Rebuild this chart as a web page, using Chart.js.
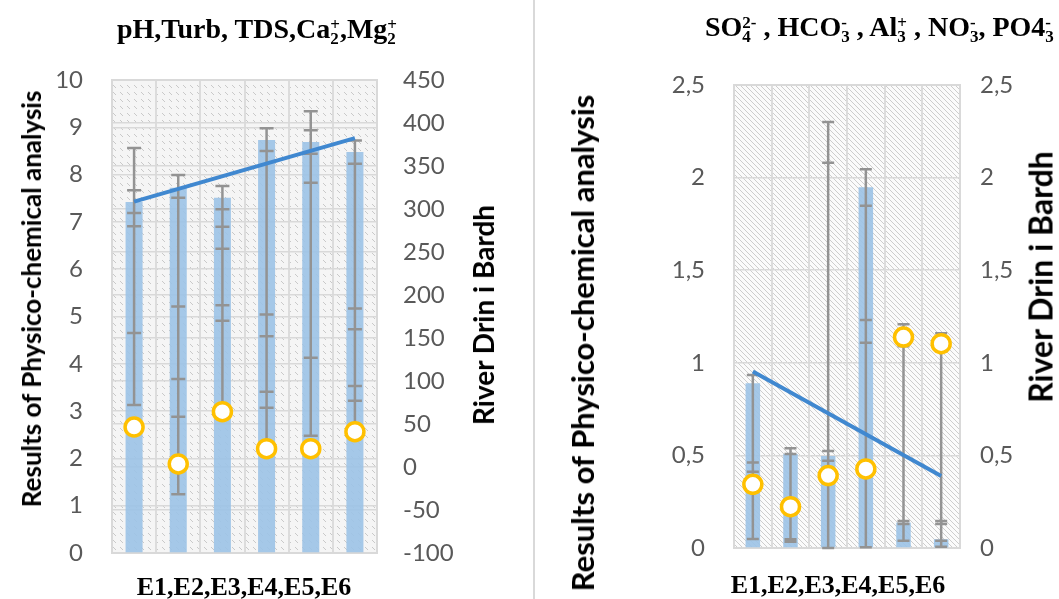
<!DOCTYPE html>
<html>
<head>
<meta charset="utf-8">
<script src="https://cdn.jsdelivr.net/npm/chart.js@4.4.1/dist/chart.umd.min.js"></script>
<style>
  body { margin:0; width:1059px; height:599px; position:relative; overflow:hidden; background:#fff; }
  canvas { position:absolute; top:0; }
  #sep { position:absolute; left:533px; top:0; width:2px; height:599px; background:#d9d9d9; }
  .t { position:absolute; font-family:'Liberation Serif', serif; font-weight:bold; font-size:28px; line-height:28px; white-space:nowrap; color:#000; }
  .ss { display:inline-block; font-size:17px; line-height:14px; vertical-align:-6px; }
  .ss span { display:block; }
  .xt { position:absolute; font-family:'Liberation Serif', serif; font-weight:bold; font-size:26px; line-height:26px; white-space:nowrap; transform:translate(-50%,-50%); }
  .yt { position:absolute; font-family:Lato, sans-serif; font-weight:bold; white-space:nowrap; transform:translate(-50%,-50%) rotate(-90deg); color:#000; }
</style>
</head>
<body>
<div id="sep"></div>
<canvas id="c1" width="530" height="599" style="left:0"></canvas>
<canvas id="c2" width="519" height="599" style="left:540px"></canvas>

<div class="t" style="left:117px;top:15px">pH,Turb, TDS,Ca<span class="ss"><span>+</span><span>2</span></span>,Mg<span class="ss"><span>+</span><span>2</span></span></div>
<div class="t" style="left:705px;top:13px">SO<span class="ss"><span>2-</span><span>4</span></span> , HCO<span class="ss"><span>-</span><span>3</span></span> , Al<span class="ss"><span>+</span><span>3</span></span> , NO<span class="ss"><span>-</span><span>3</span></span>, PO4<span class="ss"><span>-</span><span>3</span></span></div>

<div class="xt" style="left:244px;top:587px">E1,E2,E3,E4,E5,E6</div>
<div class="xt" style="left:838px;top:585px">E1,E2,E3,E4,E5,E6</div>

<div class="yt" style="left:31px;top:299px;font-size:26px">Results of Physico-chemical analysis</div>
<div class="yt" style="left:483px;top:315px;font-size:28px">River Drin i Bardh</div>
<div class="yt" style="left:582px;top:343px;font-size:31px">Results of Physico-chemical analysis</div>
<div class="yt" style="left:1040px;top:277px;font-size:32px">River Drin i Bardh</div>

<script>
const categories = ['E1', 'E2', 'E3', 'E4', 'E5', 'E6'];

// left chart: pH, Turb, TDS, Ca, Mg
const barsA = [7.42, 7.72, 7.51, 8.73, 8.69, 8.48];
const trendA = [7.43, null, null, null, null, 8.77];
const pointsA = [46.5, 3.5, 64.3, 21.3, 21.3, 41];
const errA = [
  [8.56, 7.67, 7.19, 6.91, 4.65, 3.13],
  [7.99, 7.51, 5.21, 3.68, 2.88, 1.24],
  [7.76, 7.27, 6.9, 6.43, 5.24, 4.91, 3.0],
  [8.98, 8.5, 5.04, 4.58, 3.41, 3.07, 2.25],
  [9.34, 8.94, 8.44, 7.83, 4.13, 2.48],
  [8.72, 8.23, 5.17, 4.73, 3.53, 3.22, 2.6]
];
const ticksA = ['0', '1', '2', '3', '4', '5', '6', '7', '8', '9', '10'];
const ticksA2 = ['-100', '-50', '0', '50', '100', '150', '200', '250', '300', '350', '400', '450'];

// right chart: SO4, HCO3, Al, NO3, PO4
const barsB = [0.89, 0.508, 0.497, 1.948, 0.137, 0.047];
const trendB = [0.953, null, null, null, null, 0.389];
const pointsB = [0.344, 0.223, 0.391, 0.427, 1.139, 1.103];
const errB = [
  [0.934, 0.461, 0.412, 0.049],
  [0.538, 0.508, 0.047, 0.034],
  [2.3, 2.08, 0.524, 0.471, 0.0],
  [2.045, 1.848, 1.231, 1.108, 0.004],
  [1.208, 1.09, 0.146, 0.13, 0.039],
  [1.159, 1.064, 0.146, 0.13, 0.039, 0.007]
];
const ticksB = ['0', '0,5', '1', '1,5', '2', '2,5'];

function hatch(size, bg, fg, dash) {
  const c = document.createElement('canvas');
  c.width = c.height = size;
  const g = c.getContext('2d');
  g.fillStyle = bg;
  g.fillRect(0, 0, size, size);
  g.strokeStyle = fg;
  g.lineWidth = 1;
  g.beginPath();
  if (dash) {
    g.moveTo(1, 1); g.lineTo(dash + 1, dash + 1);
  } else {
    g.moveTo(-1, -1); g.lineTo(size + 1, size + 1);
    g.moveTo(-1, size - 1); g.lineTo(1, size + 1);
    g.moveTo(size - 1, -1); g.lineTo(size + 1, 1);
  }
  g.stroke();
  return g.createPattern(c, 'repeat');
}

const plotBg = {
  id: 'plotBg',
  beforeDraw(chart, args, opts) {
    const a = chart.chartArea, ctx = chart.ctx;
    ctx.save();
    ctx.fillStyle = opts.pattern;
    ctx.fillRect(a.left, a.top, a.right - a.left, a.bottom - a.top);
    ctx.restore();
  },
  beforeDatasetsDraw(chart) {
    const a = chart.chartArea, ctx = chart.ctx;
    ctx.save();
    ctx.strokeStyle = '#d9d9d9';
    ctx.lineWidth = 2;
    ctx.strokeRect(a.left, a.top, a.right - a.left, a.bottom - a.top);
    ctx.restore();
  }
};

const errorBars = {
  id: 'errorBars',
  afterDatasetDraw(chart, args, opts) {
    if (args.index !== 0) return;
    const ctx = chart.ctx, x = chart.scales.x, y = chart.scales.y;
    ctx.save();
    ctx.strokeStyle = '#939393';
    ctx.lineWidth = 2.5;
    opts.caps.forEach((vals, i) => {
      const px = x.getPixelForValue(i);
      ctx.beginPath();
      ctx.moveTo(px, y.getPixelForValue(Math.max(...vals)));
      ctx.lineTo(px, y.getPixelForValue(Math.min(...vals)));
      vals.forEach(v => {
        const py = y.getPixelForValue(v);
        ctx.moveTo(px - opts.cap / 2, py);
        ctx.lineTo(px + opts.cap / 2, py);
      });
      ctx.stroke();
    });
    ctx.restore();
  }
};

function axis(pos, min, max, step, labels, width, pad, grid) {
  return {
    position: pos, min: min, max: max,
    ticks: { stepSize: step, padding: pad, color: '#595959', font: { family: 'Lato', size: 24 },
             callback: (v, i) => labels[i] },
    grid: { display: grid, color: '#d9d9d9', lineWidth: 1.5, drawTicks: false },
    border: { display: false },
    afterFit: s => { s.width = width; }
  };
}

function makeChart(id, d) {
  return new Chart(document.getElementById(id), {
    type: 'bar',
    data: {
      labels: categories,
      datasets: [
        { type: 'bar', data: d.bars, yAxisID: 'y', backgroundColor: 'rgba(157,195,230,0.92)',
          barPercentage: 0.385, categoryPercentage: 1, order: 3 },
        { type: 'line', data: d.trend, yAxisID: 'y', borderColor: '#4088d0', borderWidth: 4,
          pointRadius: 0, spanGaps: true, order: 2 },
        { type: 'line', data: d.points, yAxisID: 'y1', showLine: false, pointRadius: 9,
          pointBorderWidth: 3.5, pointBorderColor: '#ffc000', pointBackgroundColor: '#ffffff', order: 1 }
      ]
    },
    options: {
      responsive: false,
      animation: false,
      devicePixelRatio: 1,
      layout: { padding: d.pad },
      plugins: {
        legend: { display: false },
        tooltip: { enabled: false },
        plotBg: { pattern: d.pattern },
        errorBars: { caps: d.err, cap: d.cap }
      },
      scales: {
        x: { offset: true, grid: { offset: true, color: '#dcdcdc', lineWidth: 2, drawTicks: false },
             ticks: { display: false }, border: { display: false }, afterFit: s => { s.height = 0; } },
        y: d.y,
        y1: d.y1
      }
    },
    plugins: [plotBg, errorBars]
  });
}

makeChart('c1', {
  bars: barsA, trend: trendA, points: pointsA, err: errA, cap: 14,
  pad: { top: 80, bottom: 46, left: 0, right: 0 },
  pattern: hatch(7, '#f5f5f5', '#c9c9c9', 3),
  y: axis('left', 0, 10, 1, ticksA, 112, 29, true),
  y1: axis('right', -100, 450, 50, ticksA2, 153, 26, true)
});

makeChart('c2', {
  bars: barsB, trend: trendB, points: pointsB, err: errB, cap: 12,
  pad: { top: 85, bottom: 51, left: 0, right: 0 },
  pattern: hatch(5, '#fbfbfb', '#cdcdcd', 0),
  y: axis('left', 0, 2.5, 0.5, ticksB, 194, 29, true),
  y1: axis('right', 0, 2.5, 0.5, ticksB, 99, 20, false)
});
</script>
</body>
</html>
